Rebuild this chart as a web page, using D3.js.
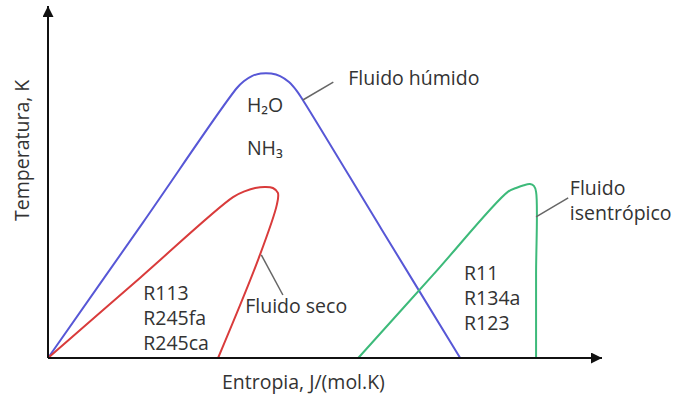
<!DOCTYPE html>
<html>
<head>
<meta charset="utf-8">
<script src="https://cdn.jsdelivr.net/npm/d3@7/dist/d3.min.js"></script>
<style>
  html, body { margin: 0; padding: 0; background: #fff; }
  svg { display: block; }
  text { font-family: "Open Sans", sans-serif; fill: #333; }
</style>
</head>
<body>
<svg id="chart" width="676" height="394"></svg>
<script>
// Saturation domes in normalised entropy (S) / temperature (T) units, 0–100.
const wetDome = [
  [0, 0], [17.1, 38.4], [34.1, 76.7], [35.4, 78.7], [36.8, 80.1], [38.4, 80.8],
  [40.3, 80.8], [41.9, 80.1], [43.5, 78.4], [44.9, 75.9], [46.0, 73.3],
  [60.2, 36.6], [74.4, 0]
];
const dryDome = [
  [0, 0], [16.7, 22.9], [33.4, 45.7], [35.6, 47.4], [37.4, 48.3], [39.2, 48.6],
  [40.6, 48.3], [41.5, 46.9], [41.3, 43.5], [37.9, 27.8], [30.7, 0]
];
const isentropicDome = [
  [56.0, 0], [69.5, 23.6], [83.0, 47.2], [84.5, 48.3], [85.9, 49.1], [87.0, 49.4],
  [87.7, 48.9], [88.1, 47.2], [88.1, 23.6], [88.1, 0]
];

// Fluid names written inside each dome.
const wetFluids = ["H₂O", "NH₃"];
const dryFluids = ["R113", "R245fa", "R245ca"];
const isentropicFluids = ["R11", "R134a", "R123"];

// Curve names with leader lines (from point on curve to the label).
const curveNames = [
  { lines: ["Fluido húmido"], from: [46.0, 73.3], to: [51.5, 78.4], at: [54.2, 79.5] },
  { lines: ["Fluido seco"], from: [38.5, 29.3], to: [42.4, 17.9], at: [35.6, 14.8] },
  { lines: ["Fluido", "isentrópico"], from: [88.1, 40.1], to: [93.9, 45.5], at: [94.2, 48.3] }
];

const axisTitles = { x: "Entropia, J/(mol.K)", y: "Temperatura, K" };

const FONT = 19.5;
const svg = d3.select("#chart");
const x = d3.scaleLinear().domain([0, 100]).range([48, 602]);
const y = d3.scaleLinear().domain([0, 100]).range([358, 6]);

const line = d3.line()
  .x(d => x(d[0]))
  .y(d => y(d[1]))
  .curve(d3.curveCatmullRom.alpha(0.5));

const domes = [
  { data: wetDome, color: "#5757d6" },
  { data: dryDome, color: "#d93b3b" },
  { data: isentropicDome, color: "#3dba7a" }
];
svg.selectAll("path.dome")
  .data(domes)
  .join("path")
  .attr("class", "dome")
  .attr("d", d => line(d.data))
  .attr("fill", "none")
  .attr("stroke", d => d.color)
  .attr("stroke-width", 2);

// Axes with arrowheads
const defs = svg.append("defs");
defs.append("marker")
  .attr("id", "arrow")
  .attr("viewBox", "0 0 10 10")
  .attr("refX", 10).attr("refY", 5)
  .attr("markerWidth", 9).attr("markerHeight", 5.5)
  .attr("markerUnits", "strokeWidth")
  .attr("orient", "auto")
  .append("path")
  .attr("d", "M0,0 L10,5 L0,10 Z")
  .attr("fill", "#111");

svg.append("line")
  .attr("x1", x(0)).attr("y1", y(0))
  .attr("x2", x(0)).attr("y2", y(100))
  .attr("stroke", "#111").attr("stroke-width", 2)
  .attr("marker-end", "url(#arrow)");
svg.append("line")
  .attr("x1", x(0)).attr("y1", y(0))
  .attr("x2", x(100)).attr("y2", y(0))
  .attr("stroke", "#111").attr("stroke-width", 2)
  .attr("marker-end", "url(#arrow)");

// Axis titles
svg.append("text")
  .attr("x", x(31.4)).attr("y", y(0) + 24)
  .attr("dy", "0.35em")
  .attr("font-size", FONT)
  .text(axisTitles.x);
svg.append("text")
  .attr("transform", `translate(22,${y(59)}) rotate(-90)`)
  .attr("text-anchor", "middle")
  .attr("dy", "0.35em")
  .attr("font-size", FONT)
  .text(axisTitles.y);

// Fluid lists
function fluidList(names, sx, ty, step) {
  svg.append("g").selectAll("text")
    .data(names)
    .join("text")
    .attr("x", x(sx))
    .attr("y", (d, i) => y(ty) + i * step)
    .attr("dy", "0.35em")
    .attr("font-size", FONT)
    .text(d => d);
}
fluidList(wetFluids, 35.9, 71.9, 43);
fluidList(dryFluids, 17.2, 18.5, 25);
fluidList(isentropicFluids, 75.1, 24.1, 25);

// Curve names and leaders
curveNames.forEach(c => {
  svg.append("line")
    .attr("x1", x(c.from[0])).attr("y1", y(c.from[1]))
    .attr("x2", x(c.to[0])).attr("y2", y(c.to[1]))
    .attr("stroke", "#666").attr("stroke-width", 1.5);
  svg.append("g").selectAll("text")
    .data(c.lines)
    .join("text")
    .attr("x", x(c.at[0]))
    .attr("y", (d, i) => y(c.at[1]) + i * 25)
    .attr("dy", "0.35em")
    .attr("font-size", FONT)
    .text(d => d);
});
</script>
</body>
</html>
